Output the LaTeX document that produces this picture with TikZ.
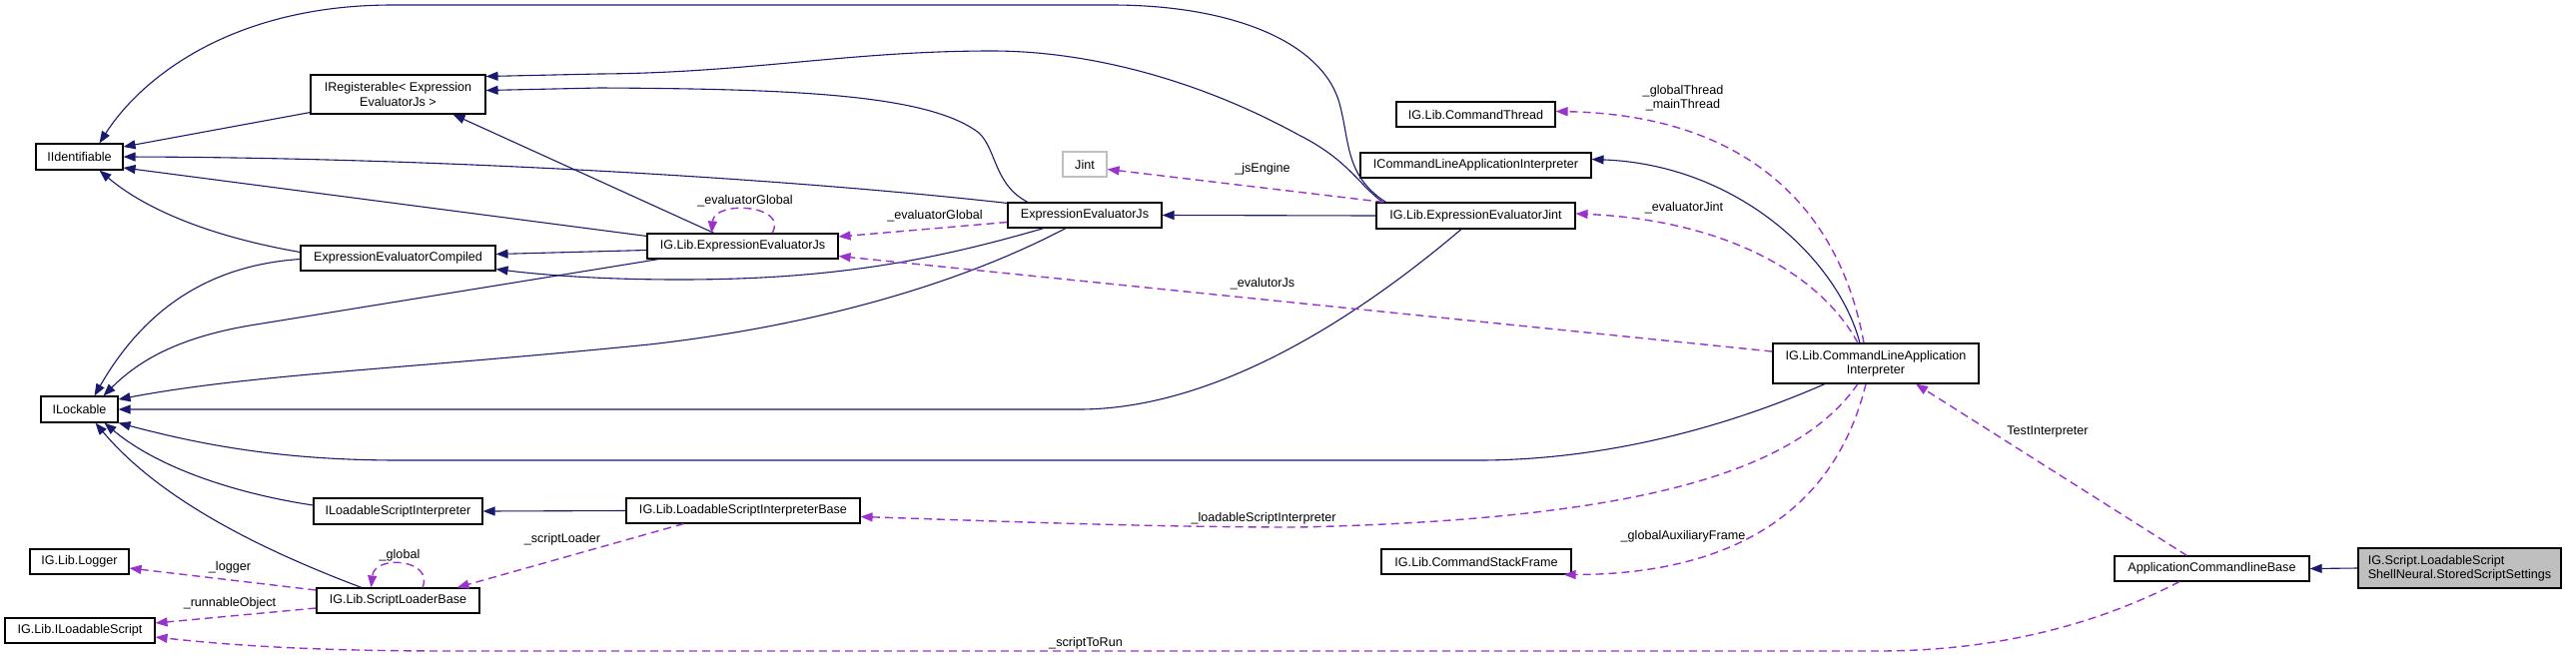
\documentclass[tikz,border=0pt]{standalone}
\usepackage{fontspec}
\setmainfont{Liberation Sans}
\usetikzlibrary{arrows.meta,calc}
\definecolor{inhc}{HTML}{191970}
\definecolor{usec}{HTML}{9A32CD}
\definecolor{graynode}{HTML}{BFBFBF}
\begin{document}
\begin{tikzpicture}[x=1pt,y=-1pt,
  box/.style={draw=black, line width=1.1pt, fill=white, inner sep=0pt, font=\fontsize{12.6}{14.5}\selectfont, align=center},
  inh/.style={draw=inhc, line width=1.1pt, -{Triangle[length=12pt,width=9pt]}},
  usg/.style={draw=usec, line width=1.4pt, dash pattern=on 8pt off 5pt, -{Triangle[length=12pt,width=9pt]}},
  lbl/.style={font=\fontsize{12.6}{14}\selectfont, inner sep=0pt, align=center}]
\fill[white] (0,0) rectangle (2579,657);
\useasboundingbox (0,0) rectangle (2579,657);

% nodes
\node[box,minimum width=87pt,minimum height=26pt] (iid) at (79.5,157) {IIdentifiable};
\node[box,minimum width=175pt,minimum height=39pt] (ireg) at (398.5,94.5) {IRegisterable< Expression\\EvaluatorJs >};
\node[box,minimum width=195pt,minimum height=25pt] (eec) at (398.5,258.5) {ExpressionEvaluatorCompiled};
\node[box,minimum width=77pt,minimum height=26pt] (ilock) at (79.5,410) {ILockable};
\node[box,minimum width=169pt,minimum height=26pt] (ilsi) at (398.5,512) {ILoadableScriptInterpreter};
\node[box,minimum width=99pt,minimum height=25pt] (logger) at (79.5,562.5) {IG.Lib.Logger};
\node[box,minimum width=163pt,minimum height=25pt] (slb) at (398.5,601.5) {IG.Lib.ScriptLoaderBase};
\node[box,minimum width=150pt,minimum height=25pt] (ils) at (80,631.5) {IG.Lib.ILoadableScript};
\node[box,minimum width=191pt,minimum height=25pt] (igeejs) at (743.5,246.5) {IG.Lib.ExpressionEvaluatorJs};
\node[box,minimum width=154pt,minimum height=25pt] (eejs) at (1086,215.5) {ExpressionEvaluatorJs};
\node[box,draw=graynode,minimum width=44pt,minimum height=25pt] (jint) at (1086,164.5) {Jint};
\node[box,minimum width=234pt,minimum height=25pt] (lsib) at (744,511.5) {IG.Lib.LoadableScriptInterpreterBase};
\node[box,minimum width=159pt,minimum height=25pt] (cth) at (1477.5,114.5) {IG.Lib.CommandThread};
\node[box,minimum width=231pt,minimum height=25pt] (iclai) at (1477.5,165.5) {ICommandLineApplicationInterpreter};
\node[box,minimum width=199pt,minimum height=26pt] (eejint) at (1477.5,216) {IG.Lib.ExpressionEvaluatorJint};
\node[box,minimum width=206pt,minimum height=40pt] (clai) at (1878,364) {IG.Lib.CommandLineApplication\\Interpreter};
\node[box,minimum width=190pt,minimum height=25pt] (csf) at (1478,562.5) {IG.Lib.CommandStackFrame};
\node[box,minimum width=195pt,minimum height=25pt] (acb) at (2214.5,569.5) {ApplicationCommandlineBase};
\node[box,fill=graynode,minimum width=203pt,minimum height=40pt,align=left] (gray) at (2462.5,569) {IG.Script.LoadableScript\\ShellNeural.StoredScriptSettings};

% inheritance (solid)
\draw[inh] ($(ireg.south west)+(0,-2)$) -- ($(iid.east)+(0,-10)$);
\draw[inh] ($(eec.west)+(0,-6)$) .. controls (200,235) and (140,205) .. ($(iid.south)+(20,0)$);
\draw[inh] ($(igeejs.north west)+(0,3)$) -- ($(iid.east)+(0,11)$);
\draw[inh] ($(eejs.north west)+(0,1)$) .. controls (800,180) and (450,158) .. (iid.east);
\draw[inh] ($(eejint.north west)+(10,0)$) .. controls (1345,175) and (1352,140) .. (1340,100) .. controls (1320,40) and (1230,5) .. (1113,5) -- (393,5) .. controls (230,5) and (140,80) .. ($(iid.north)+(20,0)$);
\draw[inh] ($(eejint.north west)+(7,0)$) .. controls (1360,185) and (1350,160) .. (1300,135) .. controls (1200,80) and (1090,51) .. (993,51) .. controls (850,51) and (750,73) .. (600,74) -- ($(ireg.east)+(0,-18)$);
\draw[inh] ($(eejs.north)+(-57,0)$) .. controls (995,185) and (998,150) .. (980,133) .. controls (930,95) and (800,89) .. (600,88) -- ($(ireg.east)+(0,-4)$);
\draw[inh] ($(igeejs.north)+(-28.5,0)$) -- ($(ireg.south)+(55,0)$);
\draw[inh] ($(igeejs.west)+(0,4)$) -- ($(eec.east)+(0,-4)$);
\draw[inh] ($(eejs.south)+(-41,0)$) .. controls (930,262) and (830,280) .. (680,280) .. controls (600,280) and (540,275) .. ($(eec.east)+(0,11)$);
\draw[inh] ($(igeejs.south west)+(12,0)$) -- (250,326) .. controls (180,338) and (140,360) .. ($(ilock.north)+(24,0)$);
\draw[inh] ($(eec.west)+(0,1)$) .. controls (220,265) and (150,300) .. ($(ilock.north)+(15,0)$);
\draw[inh] ($(eejs.south)+(-19,0)$) .. controls (950,290) and (800,328) .. (650,345) .. controls (400,370) and (250,375) .. ($(ilock.east)+(0,-10)$);
\draw[inh] ($(eejint.south)+(-14.5,0)$) .. controls (1380,300) and (1230,410) .. (1080,410) -- (ilock.east);
\draw[inh] ($(clai.south)+(-51,0)$) .. controls (1700,440) and (1580,461) .. (1480,461) -- (400,461) .. controls (280,461) and (200,445) .. (ilock.south east);
\draw[inh] ($(ilsi.west)+(0,-6)$) .. controls (240,495) and (160,470) .. ($(ilock.south)+(25,0)$);
\draw[inh] ($(slb.north)+(-36.5,0)$) .. controls (260,550) and (160,500) .. ($(ilock.south)+(16,0)$);
\draw[inh] ($(clai.north)+(-16,0)$) .. controls (1840,260) and (1740,165) .. ($(iclai.east)+(0,-6)$);
\draw[inh] (eejint.west) -- (eejs.east);
\draw[inh] (lsib.west) -- (ilsi.east);
\draw[inh] (gray.west) -- (acb.east);

% usage (dashed)
\draw[usg] ($(igeejs.north)+(29.5,0)$) .. controls (790,205) and (715,200) .. ($(igeejs.north)+(-31,0)$);
\node[lbl] (l1) at (746,201) {\_evaluatorGlobal};
\draw[usg] ($(eejs.west)+(0,7)$) -- ($(igeejs.east)+(0,-9.5)$);
\node[lbl] (l2) at (936,216) {\_evaluatorGlobal};
\draw[usg] ($(eejint.north west)+(8,0)$) -- ($(jint.east)+(0,5)$);
\node[lbl] (l3) at (1264,169) {\_jsEngine};
\draw[usg] ($(clai.west)+(0,-12)$) -- ($(igeejs.east)+(0,10)$);
\node[lbl] (l4) at (1264,284) {\_evalutorJs};
\draw[usg] ($(clai.north)+(-12,0)$) .. controls (1840,200) and (1740,115) .. ($(cth.east)+(0,-3)$);
\node[lbl] (l5) at (1685,98) {\_globalThread\\\_mainThread};
\draw[usg] ($(clai.north)+(-18,0)$) .. controls (1820,270) and (1720,220) .. ($(eejint.east)+(0,-2)$);
\node[lbl] (l6) at (1686,208) {\_evaluatorJint};
\draw[usg] ($(clai.south)+(-18,0)$) .. controls (1800,470) and (1650,520) .. (1300,528) .. controls (1150,528) and (1000,522) .. ($(lsib.east)+(0,6)$);
\node[lbl] (l7) at (1265,519) {\_loadableScriptInterpreter};
\draw[usg] ($(clai.south)+(-10,0)$) .. controls (1840,500) and (1750,575) .. ($(csf.south east)+(-8,0)$);
\node[lbl] (l8) at (1685,537) {\_globalAuxiliaryFrame};
\draw[usg] ($(acb.north)+(-25,0)$) -- ($(clai.south)+(40,0)$);
\node[lbl] (l9) at (2050,432) {TestInterpreter};
\draw[usg] ($(acb.south)+(-32.5,0)$) .. controls (2100,625) and (2000,652) .. (1880,652) -- (450,652) .. controls (300,652) and (220,645) .. ($(ils.east)+(0,6.5)$);
\node[lbl] (l10) at (1087,644) {\_scriptToRun};
\draw[usg] ($(slb.west)+(0,7.5)$) -- ($(ils.east)+(0,-7.5)$);
\node[lbl] (l11) at (230,604) {\_runnableObject};
\draw[usg] ($(slb.west)+(0,-10.5)$) -- ($(logger.east)+(0,6.5)$);
\node[lbl] (l12) at (230,568) {\_logger};
\draw[usg] ($(slb.north)+(24.5,0)$) .. controls (435,560) and (375,555) .. ($(slb.north)+(-27,0)$);
\node[lbl] (l13) at (400,556) {\_global};
\draw[usg] ($(lsib.south west)+(58,0)$) -- ($(slb.north east)+(-23,0)$);
\node[lbl] (l14) at (563,540) {\_scriptLoader};
\end{tikzpicture}
\end{document}
